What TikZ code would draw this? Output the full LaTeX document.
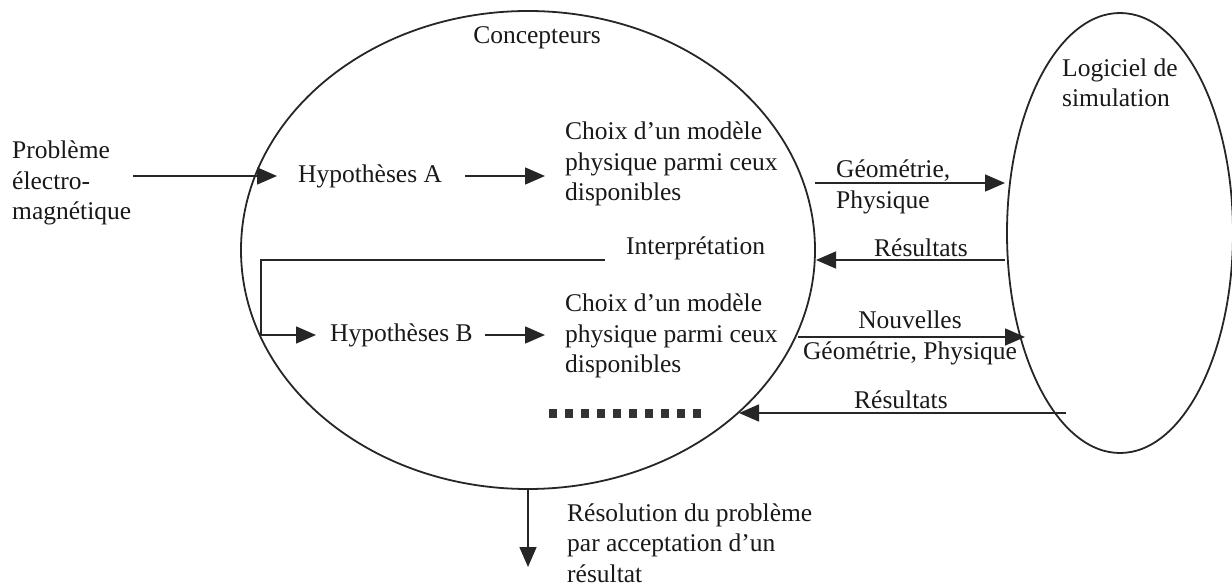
\documentclass[tikz,border=0pt]{standalone}
\usepackage{fontspec}
\setmainfont{Liberation Serif}
\usetikzlibrary{arrows.meta,shapes.geometric}

\tikzset{
		txt/.style={inner sep=0pt, align=left, anchor=west, text=black!90,
			font=\fontsize{25.5}{30.5}\selectfont},
		flow/.style={line width=1.6pt, draw=black!85, -{Triangle[length=20pt,width=17pt]}},
		bubble/.style={draw=black!85, line width=1.8pt, ellipse, inner sep=0pt}
	}

\begin{document}
\begin{tikzpicture}[x=1pt, y=-1pt]
				\useasboundingbox (0,0) rectangle (1232,588);
				% the two actors
				\node[bubble, minimum width=574pt, minimum height=478pt] (conc) at (528,250) {};
				\node[bubble, minimum width=226pt, minimum height=440pt] (logi) at (1120,233) {};
				\node[txt, anchor=center] (titre) at (537,38) {Concepteurs};
				\node[txt] (logtxt) at (1062,83) {Logiciel de\\simulation};
				% texts
				\node[txt] (prob) at (12,183) {Problème\\électro-\\magnétique};
				\node[txt] (hypA) at (298,176) {Hypothèses A};
				\node[txt] (choixA) at (565,164) {Choix d’un modèle\\physique parmi ceux\\disponibles};
				\node[txt] (interp) at (626,248) {Interprétation};
				\node[txt] (hypB) at (330,335) {Hypothèses B};
				\node[txt] (choixB) at (565,336) {Choix d’un modèle\\physique parmi ceux\\disponibles};
				\node[txt] (resol) at (567,543) {Résolution du problème\\par acceptation d’un\\résultat};
				% labels of the exchanges
				\node[txt] (geoA) at (836,187) {Géométrie,\\Physique};
				\node[txt] (resA) at (874,248) {Résultats};
				\node[txt, align=center, anchor=center] (geoB) at (910,338) {Nouvelles\\Géométrie, Physique};
				\node[txt] (resB) at (854,400) {Résultats};
				% end points on the borders
				\coordinate (inA) at (277,176);
				\coordinate (gA1) at (815,183);
				\coordinate (gA2) at (1005,183);
				\coordinate (rA1) at (1005,260);
				\coordinate (rA2) at (816,260);
				\coordinate (loop) at (605,260);
				\coordinate (gB1) at (798,337);
				\coordinate (gB2) at (1025,337);
				\coordinate (rB1) at (1066,413);
				\coordinate (rB2) at (739,413);
				\coordinate (dotA) at (549,413);
				\coordinate (dotB) at (701,413);
				\coordinate (fin) at (528,567);
				% connectors
				\draw[flow] ([xshift=2pt]prob.east |- hypA.west) -- (inA);
				\draw[flow] ([xshift=23pt]hypA.east) -- ([xshift=-20pt]hypA.east -| choixA.west);
				\draw[flow] (gA1) -- (gA2);
				\draw[flow] (rA1) -- (rA2);
				\draw[flow] (loop) -- (261,260) |- ([xshift=-14pt]hypB.west);
				\draw[flow] ([xshift=12pt]hypB.east) -- ([xshift=-20pt]hypB.east -| choixB.west);
				\draw[flow] (gB1) -- (gB2);
				\draw[flow] (rB1) -- (rB2);
				\draw[line width=9pt, draw=black!80, dash pattern=on 8pt off 8pt] (dotA) -- (dotB);
				\draw[flow] (conc.south) -- (fin);
			\end{tikzpicture}
\end{document}
